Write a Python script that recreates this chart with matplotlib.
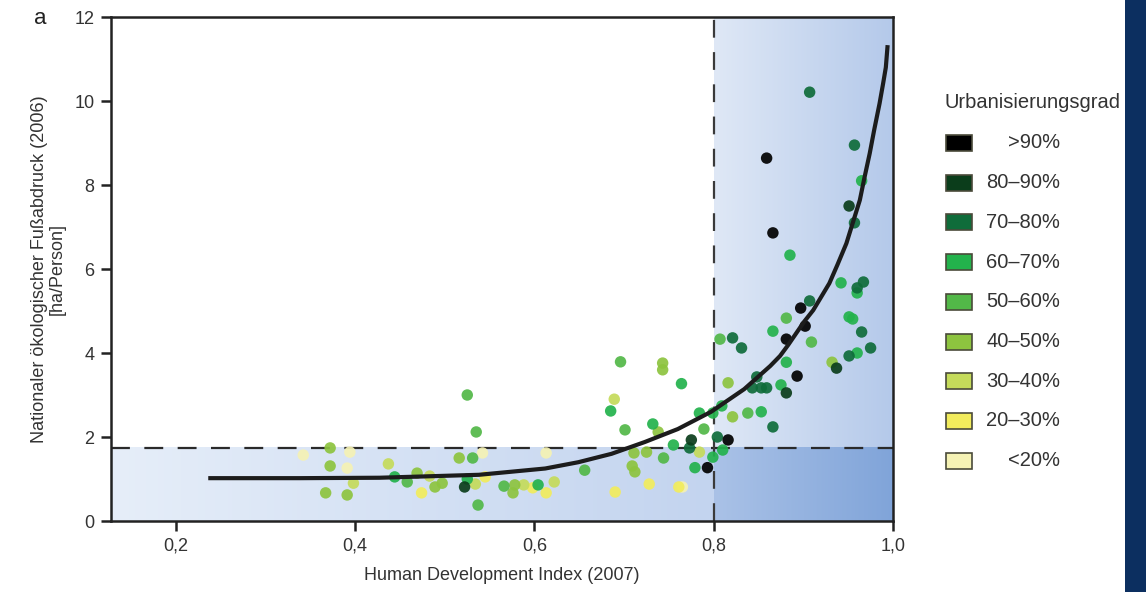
import matplotlib
matplotlib.use("Agg")
import matplotlib.pyplot as plt
import numpy as np
from matplotlib.colors import LinearSegmentedColormap
from matplotlib.patches import Rectangle

plt.rcParams['font.family'] = ['Liberation Sans', 'DejaVu Sans']

# ---------------- data ----------------
categories = [">90%", "80–90%", "70–80%", "60–70%", "50–60%",
              "40–50%", "30–40%", "20–30%", "<20%"]
cat_colors = ["#000000", "#0b3d1b", "#0f6c3a", "#23b24c", "#52b848",
              "#8dc43f", "#c5db5a", "#f2ec5c", "#f5f2b4"]

hdi_gt90 = [0.859, 0.866, 0.881, 0.897, 0.902, 0.893, 0.793, 0.816]
fp_gt90 = [8.64, 6.86, 4.33, 5.07, 4.64, 3.45, 1.27, 1.93]

hdi_80_90 = [0.951, 0.937, 0.881, 0.775, 0.522]
fp_80_90 = [7.50, 3.64, 3.05, 1.93, 0.81]

hdi_70_80 = [0.907, 0.957, 0.957, 0.967, 0.960, 0.965, 0.975, 0.951, 0.907,
             0.821, 0.831, 0.848, 0.853, 0.859, 0.843, 0.866, 0.773, 0.804]
fp_70_80 = [10.21, 8.95, 7.10, 5.69, 5.55, 4.50, 4.12, 3.93, 5.24,
            4.36, 4.12, 3.43, 3.17, 3.17, 3.17, 2.24, 1.74, 2.00]

hdi_60_70 = [0.965, 0.885, 0.942, 0.960, 0.951, 0.955, 0.960, 0.881, 0.875,
             0.866, 0.853, 0.784, 0.799, 0.809, 0.779, 0.799, 0.810, 0.764,
             0.732, 0.755, 0.685, 0.604, 0.444, 0.525]
fp_60_70 = [8.10, 6.33, 5.67, 5.43, 4.86, 4.81, 4.00, 3.78, 3.24,
            4.52, 2.60, 2.57, 2.57, 2.74, 1.27, 1.52, 1.69, 3.27,
            2.31, 1.81, 2.62, 0.86, 1.05, 1.00]

hdi_50_60 = [0.881, 0.909, 0.807, 0.838, 0.789, 0.696, 0.701, 0.744, 0.656,
             0.566, 0.537, 0.525, 0.535, 0.531, 0.458]
fp_50_60 = [4.83, 4.26, 4.33, 2.57, 2.19, 3.79, 2.17, 1.50, 1.21,
            0.83, 0.38, 3.00, 2.12, 1.50, 0.93]

hdi_40_50 = [0.932, 0.816, 0.821, 0.743, 0.743, 0.738, 0.711, 0.725, 0.709,
             0.712, 0.576, 0.578, 0.516, 0.497, 0.489, 0.469, 0.372, 0.372,
             0.367, 0.391]
fp_40_50 = [3.78, 3.29, 2.48, 3.76, 3.60, 2.12, 1.62, 1.64, 1.31,
            1.17, 0.67, 0.86, 1.50, 0.90, 0.81, 1.14, 1.74, 1.31,
            0.67, 0.62]

hdi_30_40 = [0.689, 0.784, 0.437, 0.483, 0.534, 0.588, 0.622, 0.398]
fp_30_40 = [2.90, 1.64, 1.36, 1.07, 0.88, 0.86, 0.93, 0.90]

hdi_20_30 = [0.474, 0.545, 0.613, 0.690, 0.728, 0.761, 0.598]
fp_20_30 = [0.67, 1.05, 0.67, 0.69, 0.88, 0.81, 0.79]

hdi_lt20 = [0.342, 0.394, 0.391, 0.542, 0.613, 0.765]
fp_lt20 = [1.57, 1.64, 1.26, 1.62, 1.62, 0.81]

series_hdi = [hdi_gt90, hdi_80_90, hdi_70_80, hdi_60_70, hdi_50_60,
              hdi_40_50, hdi_30_40, hdi_20_30, hdi_lt20]
series_fp = [fp_gt90, fp_80_90, fp_70_80, fp_60_70, fp_50_60,
             fp_40_50, fp_30_40, fp_20_30, fp_lt20]

# fitted trend curve
curve_hdi = [0.236, 0.338, 0.427, 0.538, 0.612, 0.649, 0.686, 0.723, 0.760,
             0.797, 0.834, 0.863, 0.874, 0.883, 0.892, 0.901, 0.911, 0.920,
             0.929, 0.938, 0.948, 0.955, 0.963, 0.968, 0.974, 0.979, 0.985,
             0.989, 0.992, 0.994]
curve_fp = [1.02, 1.02, 1.03, 1.10, 1.25, 1.40, 1.60, 1.88, 2.19,
            2.60, 3.14, 3.69, 3.93, 4.19, 4.47, 4.75, 5.02, 5.34,
            5.66, 6.10, 6.61, 7.09, 7.64, 8.16, 8.75, 9.31, 9.94,
            10.42, 10.80, 11.33]

hdi_threshold = 0.8
biocapacity = 1.75

x_ticks = [0.2, 0.4, 0.6, 0.8, 1.0]
x_ticklabels = ["0,2", "0,4", "0,6", "0,8", "1,0"]
y_ticks = [0, 2, 4, 6, 8, 10, 12]
y_ticklabels = ["0", "2", "4", "6", "8", "10", "12"]

xmin, xmax = 0.1275, 1.0
ymin, ymax = 0, 12

# ---------------- figure ----------------
W, H = 1146, 592
fig = plt.figure(figsize=(W / 100, H / 100), dpi=100)
ax = fig.add_axes([111 / W, 1 - 521 / H, (893 - 111) / W, (521 - 17) / H])

# shaded background regions (horizontal gradients)
def grad(x0, x1, y0, y1, c0, c1):
    cmap = LinearSegmentedColormap.from_list("g", [c0, c1])
    g = np.linspace(0, 1, 256).reshape(1, -1)
    ax.imshow(g, cmap=cmap, extent=[x0, x1, y0, y1], aspect='auto',
              zorder=0, interpolation='bicubic')

grad(xmin, hdi_threshold, ymin, biocapacity, "#e6eef9", "#c3d4ef")
grad(hdi_threshold, xmax, biocapacity, ymax, "#dfe8f6", "#b4c9ea")
grad(hdi_threshold, xmax, ymin, biocapacity, "#aac2e7", "#80a4d9")

# reference lines
ax.plot([xmin, xmax], [biocapacity, biocapacity], color="#2a2a2a", lw=1.6,
        dashes=(8.5, 6.5), zorder=2)
ax.plot([hdi_threshold, hdi_threshold], [ymin, ymax], color="#3a3a3a", lw=1.6,
        dashes=(8.0, 6.5), zorder=2)

# scatter points (draw light categories first)
for hx, fy, col in reversed(list(zip(series_hdi, series_fp, cat_colors))):
    ax.scatter(hx, fy, s=68, color=col, edgecolors='none', alpha=0.92, zorder=3)

# trend curve
ax.plot(curve_hdi, curve_fp, color="#1c1c1c", lw=3.0, zorder=4,
        solid_capstyle='butt', solid_joinstyle='round')

ax.set_xlim(xmin, xmax)
ax.set_ylim(ymin, ymax)
ax.set_xticks(x_ticks)
ax.set_xticklabels(x_ticklabels)
ax.set_yticks(y_ticks)
ax.set_yticklabels(y_ticklabels)
ax.tick_params(direction='out', length=7, width=1.8, color="#222222",
               labelsize=13, labelcolor="#333333", pad=5)
for sp in ax.spines.values():
    sp.set_linewidth(1.8)
    sp.set_color("#222222")

ax.set_xlabel("Human Development Index (2007)", fontsize=13, color="#333333",
              labelpad=9)
ax.set_ylabel("Nationaler ökologischer Fußabdruck (2006)\n[ha/Person]",
              fontsize=13, color="#333333", labelpad=6, linespacing=1.05)

fig.text(40 / W, 1 - 18 / H, "a", fontsize=16, color="#222222",
         ha='center', va='center')

# legend (manual)
fig.text(945 / W, 1 - 103 / H, "Urbanisierungsgrad", fontsize=14.5,
         color="#333333", ha='left', va='center')
for i, (lab, col) in enumerate(zip(categories, cat_colors)):
    yc = 143 + i * 39.7
    fig.patches.append(Rectangle((946 / W, 1 - (yc + 8) / H), 26 / W, 16 / H,
                                 transform=fig.transFigure, facecolor=col,
                                 edgecolor="#4a4a3a", lw=1.2))
    fig.text(1060 / W, 1 - yc / H, lab, fontsize=14.5, color="#333333",
             ha='right', va='center')

# dark strip at the right edge
fig.patches.append(Rectangle((1125 / W, 0), (W - 1125) / W, 1,
                             transform=fig.transFigure, facecolor="#0c2f60",
                             edgecolor='none'))

fig.savefig("out.png", dpi=100)
